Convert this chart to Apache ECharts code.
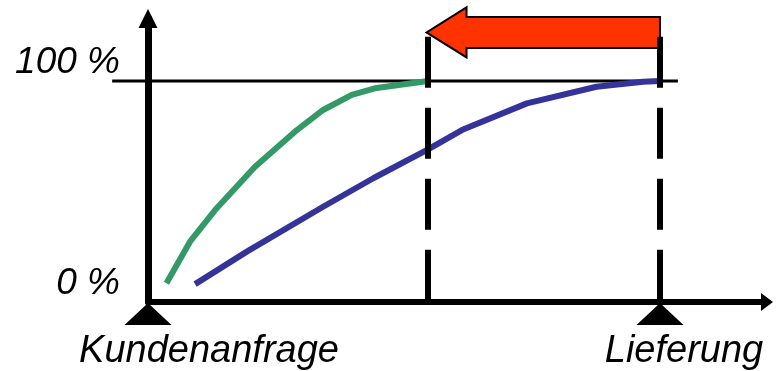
<!DOCTYPE html>
<html>
<head>
<meta charset="utf-8">
<style>
  html, body { margin: 0; padding: 0; background: #ffffff; }
  #chart { width: 776px; height: 371px; }
</style>
<script src="https://cdn.jsdelivr.net/npm/echarts@6/dist/echarts.min.js"></script>
</head>
<body>
<div id="chart"></div>
<script>
// Process stages on the time axis (0 = request, 100 = delivery)
const stageNames = ['Kundenanfrage', 'Lieferung'];
const stagePositions = [0, 100];

// Percentage ticks on the vertical axis
const percentTicks = [0, 100];

// Faster process (green): time vs. completion in %
const fastTime = [3.6, 8.2, 13.1, 20.9, 28.7, 34.2, 39.8, 44.3, 54.7];
const fastPct  = [8.5, 27.3, 41.6, 61.2, 77.1, 86.9, 93.7, 96.7, 100];

// Slower process (blue): time vs. completion in %
const slowTime = [9.2, 19.3, 34.2, 44.0, 54.7, 61.3, 74.0, 87.6, 96.7, 100];
const slowPct  = [8.1, 22.8, 43.1, 56.0, 69.1, 77.8, 89.9, 97.4, 99.7, 100];

// Completion points of both processes (dashed guides)
const finishTimes = [54.7, 100];
const guideTop = 120;

// Lead-time reduction arrow: from delivery back to the faster finish
const shiftFrom = 100;
const shiftTo = 54.4;
const shiftLevel = 122;

// 100 % reference line extent
const refLevel = 100;
const refExtent = [-7, 103.5];

const FONT = '"Liberation Sans", Arial, sans-serif';

const chart = echarts.init(document.getElementById('chart'), null, { renderer: 'canvas' });

const zip = (xs, ys) => xs.map((x, i) => [x, ys[i]]);

chart.setOption({
  animation: false,
  backgroundColor: '#ffffff',
  grid: { left: 148, right: 9, top: 18.5, bottom: 69, containLabel: false },
  xAxis: {
    type: 'value',
    min: 0,
    max: 120.9,
    axisLine: {
      show: true,
      lineStyle: { color: '#000', width: 6 },
      symbol: ['none', 'triangle'],
      symbolSize: [18, 12]
    },
    axisTick: { show: false },
    splitLine: { show: false },
    axisLabel: {
      show: true,
      customValues: stagePositions,
      margin: 30,
      formatter: (v) => {
        const i = stagePositions.indexOf(v);
        return i === 0 ? '{k|' + stageNames[0] + '}' : '{l|' + stageNames[1] + '}';
      },
      rich: {
        k: { fontFamily: FONT, fontSize: 38, fontStyle: 'italic', color: '#000', padding: [0, 0, 0, 122] },
        l: { fontFamily: FONT, fontSize: 38, fontStyle: 'italic', color: '#000', padding: [0, 0, 0, 48] }
      }
    }
  },
  yAxis: {
    type: 'value',
    min: 0,
    max: 128.3,
    axisLine: {
      show: true,
      lineStyle: { color: '#000', width: 7 },
      symbol: ['none', 'triangle'],
      symbolSize: [19, 19]
    },
    axisTick: { show: false },
    splitLine: { show: false },
    axisLabel: {
      show: true,
      customValues: percentTicks,
      margin: 28,
      verticalAlign: 'bottom',
      fontFamily: FONT,
      fontSize: 37,
      fontStyle: 'italic',
      color: '#000',
      formatter: (v) => v + ' %'
    }
  },
  series: [
    {
      name: 'ref100',
      type: 'custom',
      clip: false,
      data: [[refExtent[0], refExtent[1], refLevel]],
      renderItem: (params, api) => {
        const a = api.coord([api.value(0), api.value(2)]);
        const b = api.coord([api.value(1), api.value(2)]);
        return {
          type: 'line',
          shape: { x1: a[0], y1: a[1], x2: b[0], y2: b[1] },
          style: { stroke: '#000', lineWidth: 3 }
        };
      },
      z: 1
    },
    {
      name: 'schnell',
      type: 'line',
      data: zip(fastTime, fastPct),
      symbol: 'none',
      clip: false,
      lineStyle: { color: '#339966', width: 6, cap: 'butt', join: 'round' },
      z: 3
    },
    {
      name: 'langsam',
      type: 'line',
      data: zip(slowTime, slowPct),
      symbol: 'none',
      clip: false,
      lineStyle: { color: '#333399', width: 6, cap: 'butt', join: 'round' },
      z: 3
    },
    {
      name: 'verkuerzung',
      type: 'custom',
      clip: false,
      data: [[shiftFrom, shiftTo, shiftLevel]],
      renderItem: (params, api) => {
        const tail = api.coord([api.value(0), api.value(2)]);
        const tip = api.coord([api.value(1), api.value(2)]);
        const headLen = 40, headHalf = 25, shaftHalf = 15.5;
        const dir = tip[0] < tail[0] ? 1 : -1;
        const hx = tip[0] + dir * headLen;
        const cy = tail[1];
        return {
          type: 'polygon',
          shape: {
            points: [
              [tail[0], cy - shaftHalf],
              [hx, cy - shaftHalf],
              [hx, cy - headHalf],
              [tip[0], cy],
              [hx, cy + headHalf],
              [hx, cy + shaftHalf],
              [tail[0], cy + shaftHalf]
            ]
          },
          style: { fill: '#ff3300', stroke: '#000', lineWidth: 2, lineJoin: 'miter' }
        };
      },
      z: 4
    },
    {
      name: 'guides',
      type: 'line',
      data: [],
      markLine: {
        silent: true,
        symbol: ['none', 'none'],
        label: { show: false },
        lineStyle: { color: '#000', width: 6, type: [51, 20], cap: 'butt', opacity: 1 },
        data: finishTimes.map((t) => [{ coord: [t, guideTop] }, { coord: [t, 0] }])
      },
      z: 5
    },
    {
      name: 'stages',
      type: 'scatter',
      clip: false,
      data: stagePositions.map((x) => [x, 0]),
      symbol: 'triangle',
      symbolSize: [47, 22],
      symbolOffset: [0, 12],
      itemStyle: { color: '#000', opacity: 1 },
      z: 6
    }
  ]
});
</script>
</body>
</html>
